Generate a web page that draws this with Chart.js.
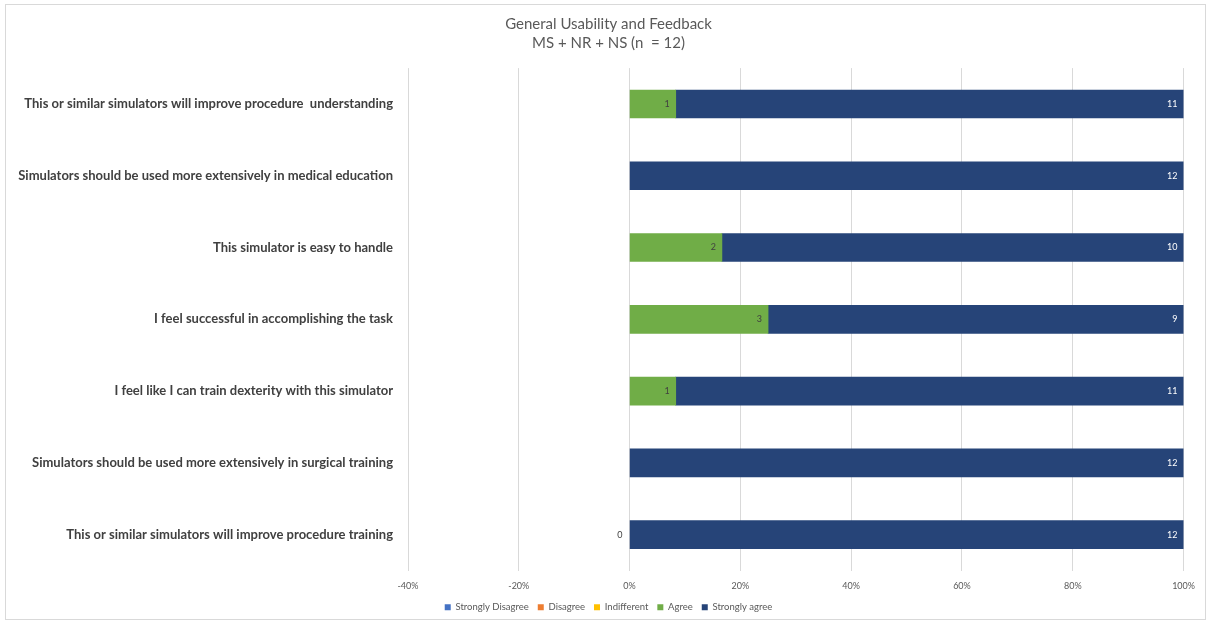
<!DOCTYPE html>
<html>
<head>
<meta charset="utf-8">
<script src="https://cdn.jsdelivr.net/npm/chart.js@4"></script>
<style>
    html, body { margin: 0; padding: 0; background: #fff; overflow: hidden; }
    .frame {
        position: absolute;
        left: 5px; top: 4px;
        width: 1199px; height: 614px;
        border: 1px solid #d9d9d9;
    }
    .frame canvas { display: block; }
</style>
</head>
<body>
<div class="frame"><canvas id="chart" width="1199" height="617"></canvas></div>
<script>
// Chart data
const categories = [
    'This or similar simulators will improve procedure  understanding',
    'Simulators should be used more extensively in medical education',
    'This simulator is easy to handle',
    'I feel successful in accomplishing the task',
    'I feel like I can train dexterity with this simulator',
    'Simulators should be used more extensively in surgical training',
    'This or similar simulators will improve procedure training'
];
const seriesNames = ['Strongly Disagree', 'Disagree', 'Indifferent', 'Agree', 'Strongly agree'];
const stronglyDisagree = [0, 0, 0, 0, 0, 0, 0];
const disagree = [0, 0, 0, 0, 0, 0, 0];
const indifferent = [0, 0, 0, 0, 0, 0, 0];
const agree = [1, 0, 2, 3, 1, 0, 0];
const stronglyAgree = [11, 12, 10, 9, 11, 12, 12];
const respondents = 12;
const tickValues = [-40, -20, 0, 20, 40, 60, 80, 100];
// the one zero count that the original chart prints (last row, left of 0%)
const zeroLabelRow = 6;

const colors = ['#4472C4', '#ED7D31', '#FFC000', '#70AD47', '#264478'];
const labelColors = ['#ffffff', '#404040', '#404040', '#404040', '#ffffff'];
const counts = [stronglyDisagree, disagree, indifferent, agree, stronglyAgree];
const FONT = 'Lato, "Open Sans", sans-serif';

// zero counts become null so no hairline bar is drawn
function toPercent(arr) {
    return arr.map(v => v > 0 ? v / respondents * 100 : null);
}

// Count labels drawn at the end of each bar segment
const countLabels = {
    id: 'countLabels',
    beforeDraw(chart) {
        // let the long category labels run into the left padding instead of being clipped
        chart.scales.y.left = 0;
    },
    afterDatasetsDraw(chart) {
        const ctx = chart.ctx;
        ctx.save();
        ctx.font = '9px ' + FONT;
        ctx.textBaseline = 'middle';
        ctx.textAlign = 'right';
        chart.data.datasets.forEach((ds, i) => {
            const meta = chart.getDatasetMeta(i);
            meta.data.forEach((bar, j) => {
                const n = counts[i][j];
                if (n > 0) {
                    ctx.fillStyle = labelColors[i];
                    ctx.fillText(String(n), bar.x - 6, bar.y);
                }
            });
        });
        // lone "0" label on the last row
        const zeroX = chart.scales.x.getPixelForValue(0);
        const rowY = chart.scales.y.getPixelForValue(zeroLabelRow);
        ctx.fillStyle = '#404040';
        ctx.fillText('0', zeroX - 7, rowY);
        ctx.restore();
    }
};

const datasets = seriesNames.map((name, i) => ({
    label: name,
    data: toPercent(counts[i]),
    backgroundColor: colors[i],
    borderWidth: 0,
    barThickness: 28
}));

new Chart(document.getElementById('chart'), {
    type: 'bar',
    data: { labels: categories, datasets: datasets },
    options: {
        indexAxis: 'y',
        responsive: false,
        animation: false,
        layout: {
            padding: { left: 22, right: 16, top: 10, bottom: 0 }
        },
        plugins: {
            title: {
                display: true,
                text: ['General Usability and Feedback', 'MS + NR + NS (n  = 12)'],
                color: '#595959',
                font: { family: FONT, size: 15, weight: 'normal', lineHeight: 1.27 },
                padding: { top: 0, bottom: 15 }
            },
            legend: {
                position: 'bottom',
                labels: {
                    boxWidth: 6,
                    boxHeight: 6,
                    color: '#595959',
                    font: { family: FONT, size: 9.5 },
                    padding: 9
                }
            },
            tooltip: { enabled: false }
        },
        scales: {
            x: {
                stacked: true,
                min: -40,
                max: 100,
                afterBuildTicks: axis => {
                    axis.ticks = tickValues.map(v => ({ value: v }));
                },
                afterFit: axis => { axis.height = 23; },
                grid: { color: '#d9d9d9', drawTicks: false },
                border: { display: false },
                ticks: {
                    color: '#595959',
                    font: { family: FONT, size: 9 },
                    padding: 10,
                    callback: v => v + '%'
                }
            },
            y: {
                stacked: true,
                afterFit: axis => { axis.width = 380; },
                grid: { display: false, drawTicks: false },
                border: { display: false },
                ticks: {
                    color: '#404040',
                    font: { family: FONT, size: 13, weight: 'bold' },
                    padding: 15
                }
            }
        }
    },
    plugins: [countLabels]
});
</script>
</body>
</html>
